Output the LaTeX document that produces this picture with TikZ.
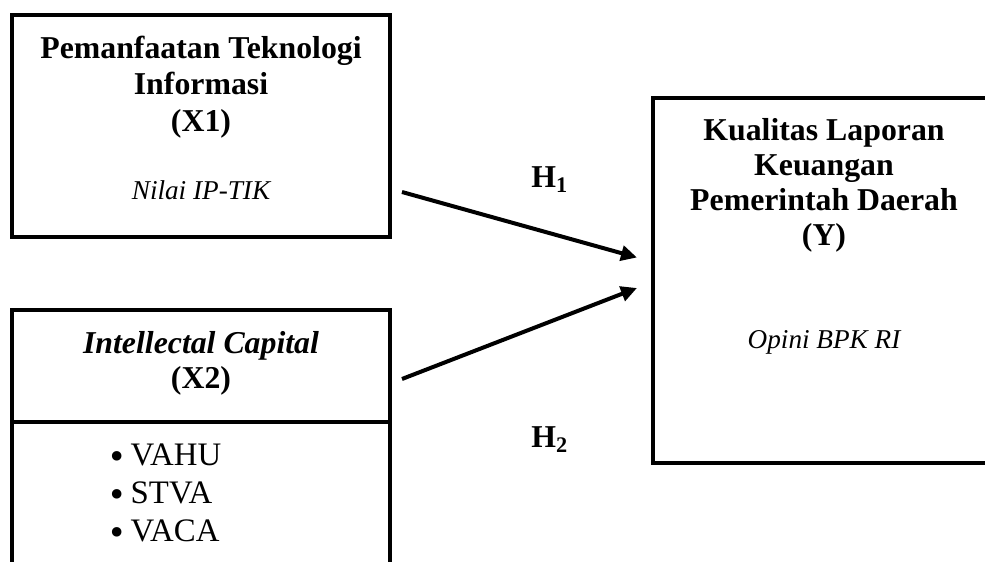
\documentclass[tikz,border=0pt]{standalone}
\usepackage{fontspec}
\setmainfont{Liberation Serif}
\newfontfamily\bulletfont{DejaVu Sans}
\usetikzlibrary{arrows.meta}

\newcommand{\itembullet}{\raisebox{-1.5pt}{\bulletfont •}\hspace{2pt}}

\tikzset{
  every box/.style={draw, line width=2pt, inner sep=0pt},
  every title/.style={font=\bfseries\fontsize{15.9}{18}\selectfont, inner sep=0pt, anchor=base},
  every indicator/.style={font=\itshape\fontsize{13.6}{16}\selectfont, inner sep=0pt, anchor=base},
  every item/.style={font=\fontsize{16.4}{18}\selectfont, inner sep=0pt, anchor=base west},
  every link/.style={-{Triangle[length=8pt,width=7.5pt]}, line width=2pt},
}

\begin{document}
\begin{tikzpicture}[x=0.5pt, y=-0.5pt]
		\useasboundingbox (0,0) rectangle (985,562);
		\node [every box/.try, minimum width=189pt, minimum height=111pt] (x1) at (201,126) {};
		\node [every box/.try, minimum width=189pt, minimum height=160pt] (x2) at (201,470) {};
		\node [every box/.try, minimum width=171pt, minimum height=182.5pt] (lkpd) at (824,280.5) {};
		\coordinate (split) at (0,422);
		\draw [line width=2pt] (x2.west |- split) -- (x2.east |- split);

		\foreach \l [count=\i] in {Pemanfaatan Teknologi, Informasi, (X1)} {
			\node [every title/.try] (x1-t\i) at (201,{58+36.7*(\i-1)}) {\l};
		};
		\node [every indicator/.try] (x1-ind) at (201,199) {Nilai IP-TIK};

		\node [every title/.try] (x2-t1) at (201,353) {\textit{Intellectal Capital}};
		\node [every title/.try] (x2-t2) at (201,388) {(X2)};
		\foreach \l [count=\i] in {VAHU, STVA, VACA} {
			\node [every item/.try] (x2-i\i) at (107,{465.7+38*(\i-1)}) {\itembullet\l};
		};

		\foreach \l [count=\i] in {Kualitas Laporan, Keuangan, Pemerintah Daerah, (Y)} {
			\node [every title/.try] (lkpd-t\i) at (824,{140+35*(\i-1)}) {\l};
		};
		\node [every indicator/.try] (lkpd-ind) at (824,348) {Opini BPK RI};

		\coordinate (h1-from) at ([shift={(10,66)}]x1.east);
		\coordinate (h1-to) at ([shift={(-14,-23)}]lkpd.west);
		\coordinate (h2-from) at ([shift={(10,-91)}]x2.east);
		\coordinate (h2-to) at ([shift={(-14,7.5)}]lkpd.west);
		\draw [every link/.try] (h1-from) -- (h1-to);
		\draw [every link/.try] (h2-from) -- (h2-to);

		\node [every title/.try, anchor=base west] (h1) at (531,187) {H\textsubscript{1}};
		\node [every title/.try, anchor=base west] (h2) at (531,447) {H\textsubscript{2}};
	\end{tikzpicture}
\end{document}
